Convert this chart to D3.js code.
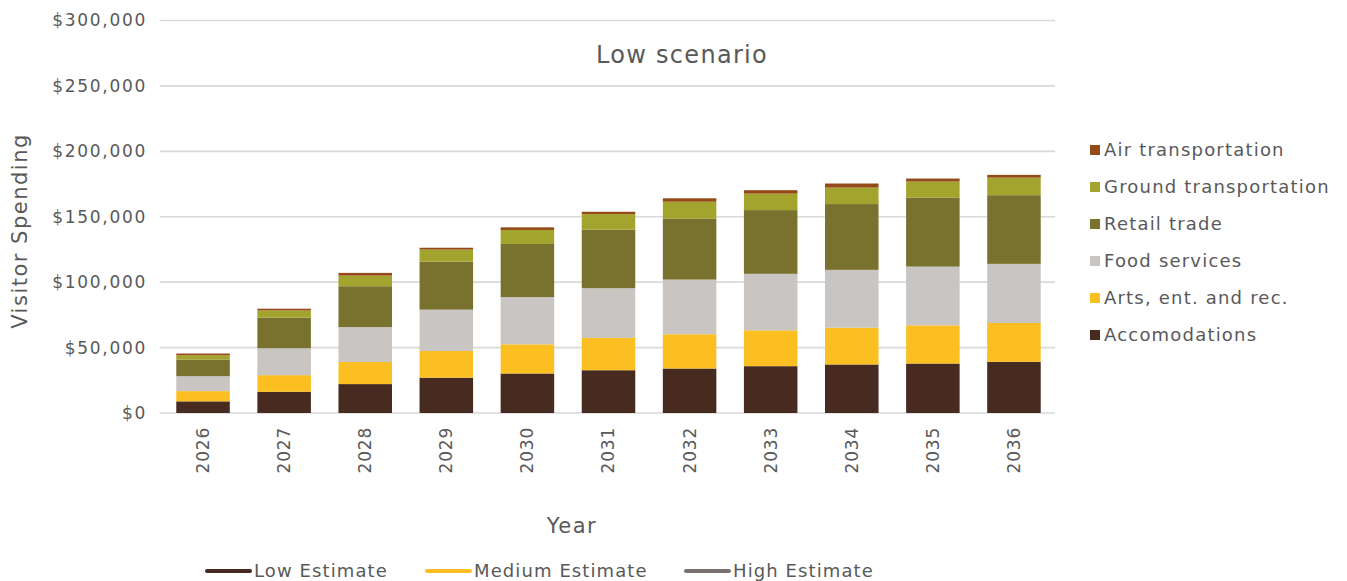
<!DOCTYPE html>
<html>
<head>
<meta charset="utf-8">
<script src="https://cdn.jsdelivr.net/npm/d3@7"></script>
<style>
  html, body { margin: 0; padding: 0; background: #ffffff; }
  svg { display: block; font-family: "DejaVu Sans", "Open Sans", sans-serif; }
</style>
</head>
<body>
<svg id="chart" width="1347" height="581"></svg>
<script>
// Visitor spending by category, low scenario
const years = ["2026","2027","2028","2029","2030","2031","2032","2033","2034","2035","2036"];
const accomodations = [8900, 16200, 22100, 27000, 30200, 32700, 34000, 35800, 37100, 37800, 39100];
const artsEnt       = [7850, 12700, 16900, 20400, 22300, 24700, 26200, 27400, 28100, 29200, 29700];
const foodServices  = [11400, 20600, 26700, 31600, 36100, 38000, 41800, 43200, 44200, 44900, 45200];
const retailTrade   = [12700, 23400, 31200, 36700, 40600, 44700, 46700, 48700, 50300, 52800, 52500];
const groundTransp  = [3300, 5500, 8100, 9200, 10700, 11900, 12800, 12600, 12600, 12200, 13400];
const airTransp     = [1300, 1300, 2100, 1400, 2000, 1800, 2600, 2600, 3100, 2300, 2100];

const seriesNames = ["Accomodations", "Arts, ent. and rec.", "Food services", "Retail trade", "Ground transportation", "Air transportation"];
const seriesValues = [accomodations, artsEnt, foodServices, retailTrade, groundTransp, airTransp];
const seriesColors = ["#472a20", "#fcbf21", "#c9c5c3", "#78722e", "#a3a42e", "#934a16"];

const yTicks = [0, 50000, 100000, 150000, 200000, 250000, 300000];
const estimateNames = ["Low Estimate", "Medium Estimate", "High Estimate"];
const estimateColors = ["#472a20", "#fcbf21", "#7a6f6f"];

const textColor = "#595959";
const fontFamily = "DejaVu Sans, Open Sans, sans-serif";

const rows = years.map((y, i) => {
  const r = { year: y };
  seriesNames.forEach((n, k) => { r[n] = seriesValues[k][i]; });
  return r;
});
const stacked = d3.stack().keys(seriesNames)(rows);

const svg = d3.select("#chart");

const x = d3.scaleBand().domain(years).range([162.5, 1054.5]).paddingInner(0.34).paddingOuter(0.17);
const y = d3.scaleLinear().domain([0, 300000]).range([413, 20.5]);

// gridlines
svg.append("g")
  .selectAll("line")
  .data(yTicks)
  .join("line")
  .attr("x1", 160).attr("x2", 1055)
  .attr("y1", d => y(d)).attr("y2", d => y(d))
  .attr("stroke", "#d9d9d9").attr("stroke-width", 1.6);

// y axis labels
const fmt = d3.format("$,.0f");
const yAxis = svg.append("g")
  .attr("transform", "translate(147,0)")
  .call(d3.axisLeft(y).tickValues(yTicks).tickFormat(d => fmt(d)).tickSize(0).tickPadding(0));
yAxis.select(".domain").remove();
yAxis.selectAll("text")
  .attr("fill", textColor).attr("font-size", 17).attr("letter-spacing", 1.7)
  .attr("font-family", fontFamily);

// stacked bars
svg.append("g")
  .selectAll("g")
  .data(stacked)
  .join("g")
  .attr("fill", (d, i) => seriesColors[i])
  .selectAll("rect")
  .data(d => d)
  .join("rect")
  .attr("x", d => x(d.data.year))
  .attr("width", x.bandwidth())
  .attr("y", d => y(d[1]))
  .attr("height", d => y(d[0]) - y(d[1]));

// x axis labels, rotated
const xAxis = svg.append("g")
  .attr("transform", "translate(0,427)")
  .call(d3.axisBottom(x).tickSize(0).tickPadding(0));
xAxis.select(".domain").remove();
xAxis.selectAll("text")
  .attr("fill", textColor).attr("font-size", 17).attr("letter-spacing", 0.8)
  .attr("font-family", fontFamily)
  .attr("text-anchor", "end")
  .attr("dy", "0.35em")
  .attr("transform", "rotate(-90)")
  .attr("x", 0).attr("y", 0);

// titles
svg.append("text")
  .attr("x", 682).attr("y", 63)
  .attr("text-anchor", "middle")
  .attr("fill", textColor).attr("font-size", 24).attr("letter-spacing", 1.3)
  .text("Low scenario");

svg.append("text")
  .attr("transform", "translate(27,231) rotate(-90)")
  .attr("text-anchor", "middle")
  .attr("fill", textColor).attr("font-size", 21).attr("letter-spacing", 1.5)
  .text("Visitor Spending");

svg.append("text")
  .attr("x", 572).attr("y", 533)
  .attr("text-anchor", "middle")
  .attr("fill", textColor).attr("font-size", 21).attr("letter-spacing", 1.5)
  .text("Year");

// right legend (top series first)
const legendOrder = d3.range(seriesNames.length).reverse();
const leg = svg.append("g")
  .selectAll("g")
  .data(legendOrder)
  .join("g")
  .attr("transform", (d, i) => `translate(1090,${150 + i * 37})`);
leg.append("rect")
  .attr("x", 0).attr("y", -5).attr("width", 10).attr("height", 10)
  .attr("fill", d => seriesColors[d]);
leg.append("text")
  .attr("x", 14).attr("y", 0).attr("dy", "0.35em")
  .attr("fill", textColor).attr("font-size", 18).attr("letter-spacing", 1.2)
  .text(d => seriesNames[d]);

// bottom legend
const legendX = [207, 427, 686];
const bl = svg.append("g")
  .selectAll("g")
  .data(estimateNames)
  .join("g")
  .attr("transform", (d, i) => `translate(${legendX[i]},571)`);
bl.append("line")
  .attr("x1", 0).attr("x2", 43).attr("y1", 0).attr("y2", 0)
  .attr("stroke", (d, i) => estimateColors[i])
  .attr("stroke-width", 4).attr("stroke-linecap", "round");
bl.append("text")
  .attr("x", 47).attr("y", 0).attr("dy", "0.35em")
  .attr("fill", textColor).attr("font-size", 18).attr("letter-spacing", 1.1)
  .text(d => d);
</script>
</body>
</html>
